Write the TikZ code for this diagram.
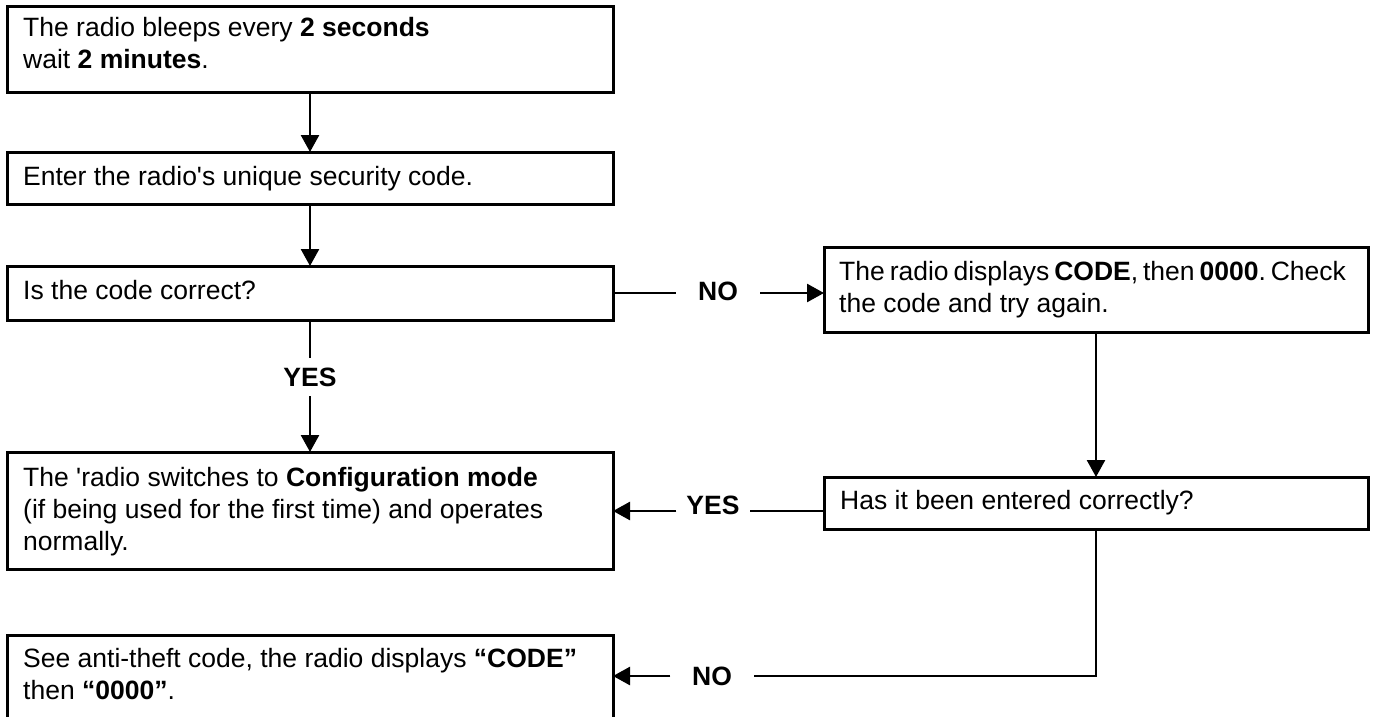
\documentclass[tikz,border=0pt]{standalone}
\usepackage{fontspec}
\setmainfont{Liberation Sans}
\usetikzlibrary{arrows.meta}
\frenchspacing
\begin{document}
\begin{tikzpicture}[x=1pt,y=-1pt,
  box/.style={draw, line width=3pt, rectangle, inner sep=0pt, outer sep=0pt, anchor=north west},
  txt/.style={anchor=base west, inner sep=0pt, font=\fontsize{26.5}{32}\selectfont},
  lbl/.style={inner ysep=9.5pt, font=\fontsize{26.5}{32}\selectfont\bfseries},
  conn/.style={line width=2.6pt},
  arr/.style={conn, -{Triangle[length=17pt,width=18pt]}}]
\clip (0,0) rectangle (1373,717);
\fill[white] (0,0) rectangle (1373,717);
% boxes
\node[box, minimum width=606pt, minimum height=85pt]  (b1) at (7,7) {};
\node[box, minimum width=606pt, minimum height=52pt]  (b2) at (7,152) {};
\node[box, minimum width=606pt, minimum height=54pt]  (b3) at (7,266) {};
\node[box, minimum width=544pt, minimum height=85pt]  (b4) at (824,247) {};
\node[box, minimum width=606pt, minimum height=117pt] (b5) at (7,452) {};
\node[box, minimum width=544pt, minimum height=52pt]  (b6) at (824,477) {};
\node[box, minimum width=606pt, minimum height=110pt] (b7) at (7,635) {};
% texts
\node[txt] (t1) at (23,37) {\vtop{\hbox{The radio bleeps every \textbf{2 seconds}}\hbox{wait \textbf{2 minutes}.}}};
\node[txt] (t2) at (23,185) {Enter the radio\textquotesingle s unique security code.};
\node[txt] (t3) at (23,299) {Is the code correct?};
\node[txt] (t4) at (839,280) {\vtop{\hbox to 506pt{The radio displays \textbf{CODE}, then \textbf{0000}. Check}\hbox{the code and try again.}}};
\node[txt] (t5) at (23,486) {\vtop{\hbox{The \textquotesingle radio switches to \textbf{Configuration mode}}\hbox{(if being used for the first time) and operates}\hbox{normally.}}};
\node[txt] (t6) at (840,509) {Has it been entered correctly?};
\node[txt] (t7) at (23,667) {\vtop{\hbox{See anti-theft code, the radio displays \textbf{“CODE”}}\hbox{then \textbf{“0000”}.}}};
% labels
\node[lbl, inner xsep=22pt] (no1) at (718,291) {NO};
\node[lbl] (yes1) at (310,377) {YES};
\node[lbl, inner xsep=10pt] (yes2) at (713,505) {YES};
\node[lbl, inner xsep=21.5pt] (no2) at (712,676) {NO};
\coordinate (yl) at (0,511);
% connectors
\draw[arr] (b1.south) -- (b2.north);
\draw[arr] (b2.south) -- (b3.north);
\draw[conn] (b3.east) -- (b3.east -| no1.west);
\draw[arr] (b3.east -| no1.east) -- (b3.east -| b4.west);
\draw[conn] (b3.south) -- (yes1.north);
\draw[arr] (yes1.south) -- (b5.north);
\draw[arr] (b4.south) -- (b6.north);
\draw[conn] (yl -| b6.west) -- (yl -| yes2.east);
\draw[arr] (yl -| yes2.west) -- (yl -| b5.east);
\draw[conn] (b6.south) |- (no2.east);
\draw[arr] (no2.west) -- (no2.west -| b7.east);
\end{tikzpicture}
\end{document}
